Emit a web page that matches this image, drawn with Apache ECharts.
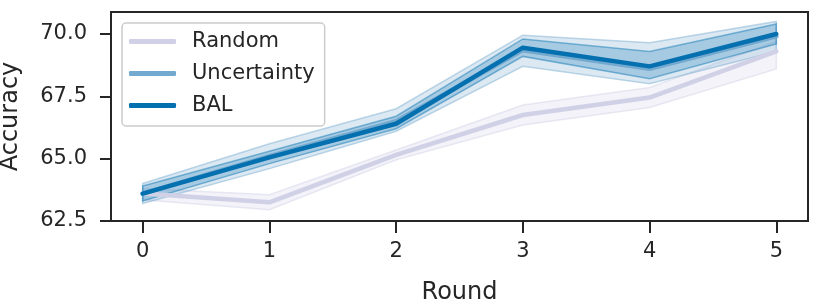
<!DOCTYPE html>
<html><head><meta charset="utf-8">
<script src="https://cdn.jsdelivr.net/npm/echarts@6/dist/echarts.min.js"></script>
<style>html,body{margin:0;padding:0;background:#fff}#c{width:821px;height:307px}</style>
</head><body><div id="c"></div>
<script>
const rounds = [0, 1, 2, 3, 4, 5];
const yTicks = [62.5, 65.0, 67.5, 70.0];
const seriesNames = ['Random', 'Uncertainty', 'BAL'];
const randomMean = [63.6, 63.25, 65.15, 66.75, 67.45, 69.3];
const randomLow = [63.35, 62.95, 64.95, 66.35, 67.05, 68.6];
const randomHigh = [63.8, 63.55, 65.35, 67.15, 67.85, 69.7];
const uncertaintyMean = [63.6, 65.1, 66.5, 69.35, 68.6, 69.9];
const uncertaintyLow = [63.2, 64.6, 66.1, 68.7, 68.0, 69.3];
const uncertaintyHigh = [64.0, 65.6, 67.0, 69.95, 69.65, 70.5];
const balMean = [63.6, 65.05, 66.4, 69.45, 68.7, 70.0];
const balLow = [63.3, 64.8, 66.2, 69.1, 68.2, 69.6];
const balHigh = [63.9, 65.3, 66.7, 69.8, 69.3, 70.4];
const colors = ['#d0d1e6', '#74a9cf', '#0570b0'];

const means = [randomMean, uncertaintyMean, balMean];
const lows = [randomLow, uncertaintyLow, balLow];
const highs = [randomHigh, uncertaintyHigh, balHigh];

const chart = echarts.init(document.getElementById('c'), null, {renderer: 'canvas'});
const series = [];
seriesNames.forEach((name, i) => {
  const lo = lows[i], hi = highs[i], col = colors[i];
  series.push({
    type: 'custom',
    silent: true,
    z: 1 + i,
    data: rounds.map((r, k) => [r, lo[k], hi[k]]),
    encode: {x: 0, y: [1, 2]},
    renderItem: function (params, api) {
      if (params.dataIndexInside !== 0) return null;
      const pts = [];
      for (let k = 0; k < rounds.length; k++) pts.push(api.coord([rounds[k], hi[k]]));
      for (let k = rounds.length - 1; k >= 0; k--) pts.push(api.coord([rounds[k], lo[k]]));
      return {
        type: 'polygon',
        shape: {points: pts},
        style: {fill: echarts.color.modifyAlpha(col, 0.25), stroke: echarts.color.modifyAlpha(col, 0.45), lineWidth: 1.5}
      };
    }
  });
});
seriesNames.forEach((name, i) => {
  series.push({
    name: name,
    type: 'line',
    z: 10 + i,
    data: rounds.map((r, k) => [r, means[i][k]]),
    showSymbol: false,
    symbol: 'none',
    lineStyle: {color: colors[i], width: 4.5, cap: 'round', join: 'round'},
    itemStyle: {color: colors[i]}
  });
});

chart.setOption({
  animation: false,
  backgroundColor: '#fff',
  textStyle: {fontFamily: 'DejaVu Sans'},
  grid: {left: 111, right: 13, top: 12, bottom: 86, show: true, borderColor: '#262626', borderWidth: 2, backgroundColor: 'transparent', containLabel: false, outerBoundsMode: 'none'},
  xAxis: {
    type: 'value', min: -0.25, max: 5.25,
    name: 'Round', nameLocation: 'middle', nameGap: 60,
    nameTextStyle: {fontSize: 24, color: '#262626', fontFamily: 'DejaVu Sans'},
    axisLine: {show: true, onZero: false, lineStyle: {color: '#262626', width: 2}},
    axisTick: {show: true, length: 12, lineStyle: {color: '#262626', width: 2}, customValues: rounds},
    axisLabel: {fontSize: 21, color: '#262626', margin: 20, fontFamily: 'DejaVu Sans', customValues: rounds},
    splitLine: {show: false}
  },
  yAxis: {
    type: 'value', min: 62.5, max: 70.88,
    name: 'Accuracy', nameLocation: 'middle', nameGap: 88, nameRotate: 90,
    nameTextStyle: {fontSize: 24, color: '#262626', fontFamily: 'DejaVu Sans'},
    axisLine: {show: true, onZero: false, lineStyle: {color: '#262626', width: 2}},
    axisTick: {show: true, length: 11, lineStyle: {color: '#262626', width: 2}, customValues: yTicks},
    axisLabel: {fontSize: 21, color: '#262626', margin: 24, fontFamily: 'DejaVu Sans', customValues: yTicks, formatter: v => v.toFixed(1)},
    splitLine: {show: false}
  },
  legend: {
    data: seriesNames,
    orient: 'vertical',
    left: 122, top: 23,
    padding: [8, 10, 10, 7],
    itemWidth: 47, itemHeight: 5, itemGap: 11,
    icon: 'roundRect',
    backgroundColor: 'rgba(255,255,255,0.8)',
    borderColor: '#cccccc', borderWidth: 1.5, borderRadius: 4,
    textStyle: {fontSize: 21, color: '#262626', fontFamily: 'DejaVu Sans', padding: [0, 0, 0, 11], lineHeight: 21},
    itemStyle: {borderWidth: 0}
  },
  series: series
});
</script></body></html>
